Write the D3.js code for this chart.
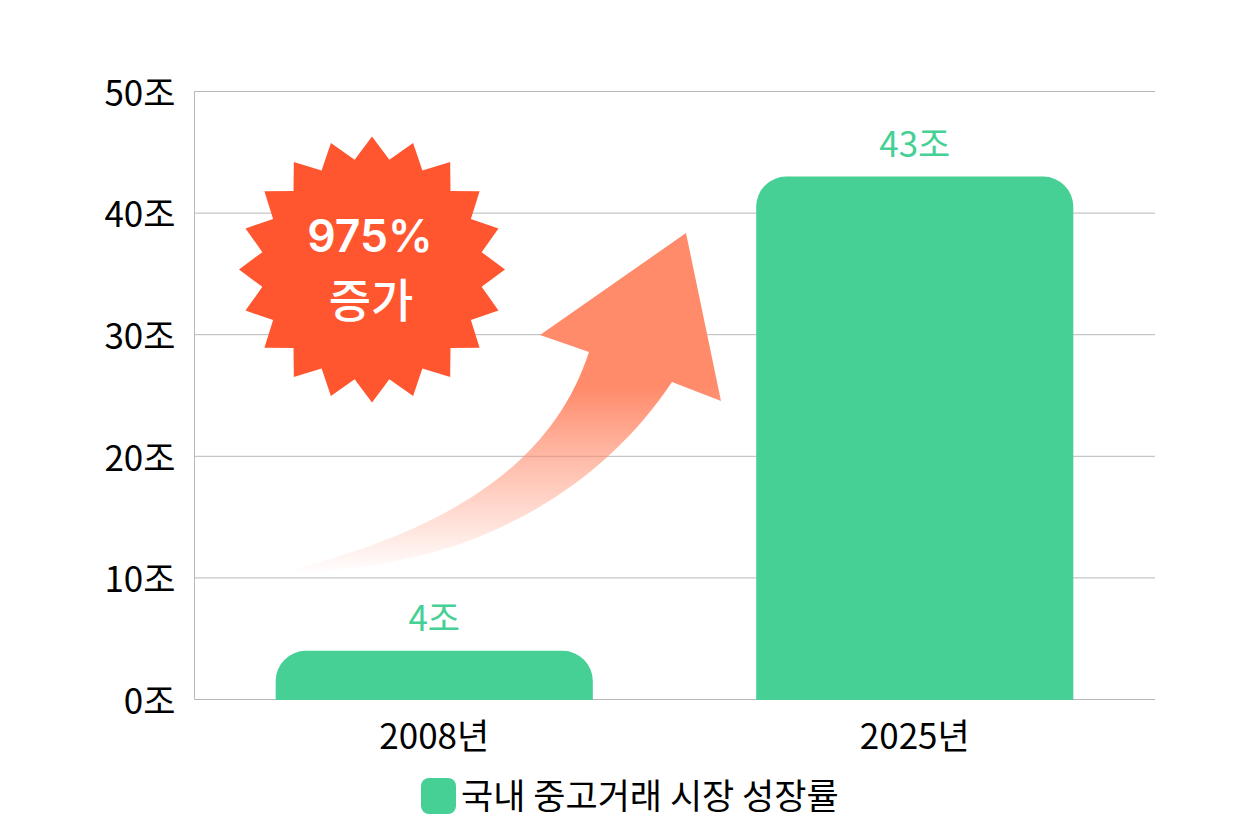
<!DOCTYPE html>
<html>
<head>
<meta charset="utf-8">
<script src="https://cdn.jsdelivr.net/npm/d3@7"></script>
<style>
  html, body { margin: 0; padding: 0; background: #fff; }
  svg text { font-family: "Noto Sans CJK KR", "Noto Sans", sans-serif; }
</style>
</head>
<body>
<div id="chart"></div>
<script>
const years = ["2008년", "2025년"];
const values = [4, 43];
const valueLabels = ["4조", "43조"];
const yTicks = [0, 10, 20, 30, 40, 50];
const legendLabel = "국내 중고거래 시장 성장률";
const badgeLines = ["975%", "증가"];

const green = "#46d095", lineColor = "#b8b8b8";
const fontSize = 35;

const svg = d3.select("#chart").append("svg")
    .attr("width", 1260)
    .attr("height", 840)
    .style("display", "block");

const x = d3.scaleBand().domain(years).range([194, 1155]).paddingInner(0.34).paddingOuter(0.17);
const y = d3.scaleLinear().domain([0, 50]).range([699.5, 91.5]);

// gradient for the arrow, solid at the head and fading to the tail
const grad = svg.append("defs").append("linearGradient")
    .attr("id", "arrowFade")
    .attr("gradientUnits", "userSpaceOnUse")
    .attr("x1", 0).attr("x2", 0)
    .attr("y1", 388).attr("y2", 574);
grad.append("stop").attr("offset", 0).attr("stop-color", "#ff8b6b").attr("stop-opacity", 1);
grad.append("stop").attr("offset", 0.35).attr("stop-color", "#ff8b6b").attr("stop-opacity", 0.62);
grad.append("stop").attr("offset", 0.7).attr("stop-color", "#ff8b6b").attr("stop-opacity", 0.28);
grad.append("stop").attr("offset", 1).attr("stop-color", "#ff8b6b").attr("stop-opacity", 0);

// y axis with gridlines
const yAxis = svg.append("g")
    .attr("transform", "translate(194.5,0)")
    .call(d3.axisLeft(y).offset(0).tickValues(yTicks).tickSize(-960.5).tickPadding(19).tickFormat(d => d + "조"));
yAxis.select(".domain").attr("stroke", lineColor).attr("d", "M0,91.5V699.5");
yAxis.selectAll(".tick line").attr("stroke", lineColor);
yAxis.selectAll(".tick text")
    .attr("font-size", fontSize)
    .attr("fill", "#000")
    .attr("dy", "0.41em");

// bars, only the top corners are rounded
function barPath(d, i) {
    const x0 = x(years[i]), x1 = x0 + x.bandwidth(), top = y(d), r = 30;
    return "M" + x0 + "," + (y(0) + 0.5) + "V" + (top + r) + "A" + r + "," + r + " 0 0 1 " + (x0 + r) + "," + top +
        "H" + (x1 - r) + "A" + r + "," + r + " 0 0 1 " + x1 + "," + (top + r) + "V" + (y(0) + 0.5) + "Z";
}
svg.append("g").selectAll("path")
    .data(values)
    .enter().append("path")
    .attr("d", barPath)
    .attr("fill", green);

svg.append("g").selectAll("text")
    .data(values)
    .enter().append("text")
    .attr("x", (d, i) => x(years[i]) + x.bandwidth() / 2)
    .attr("y", d => y(d) - 20)
    .attr("text-anchor", "middle")
    .attr("font-size", fontSize)
    .attr("fill", green)
    .text((d, i) => valueLabels[i]);

// x axis labels
const xAxis = svg.append("g")
    .attr("transform", "translate(0,699)")
    .call(d3.axisBottom(x).tickSize(0).tickPadding(0));
xAxis.select(".domain").remove();
xAxis.selectAll(".tick text")
    .attr("font-size", fontSize)
    .attr("fill", "#000")
    .attr("y", 50)
    .attr("dy", 0);

// curved arrow
svg.append("path")
    .attr("d", "M283,572C425,536 548,478 589,352L540,335L686,233L721,401L672,382C600,490 470,572 283,572Z")
    .attr("fill", "url(#arrowFade)");

// starburst badge
const spikes = 20, outerR = 133, innerR = 111;
const starPoints = d3.range(spikes * 2).map(i => [i * Math.PI / spikes, i % 2 ? innerR : outerR]);
const badge = svg.append("g").attr("transform", "translate(372,269.5)");
badge.append("path")
    .attr("d", d3.lineRadial().curve(d3.curveLinearClosed)(starPoints))
    .attr("fill", "#ff5630");
badge.selectAll("text")
    .data(badgeLines)
    .enter().append("text")
    .attr("x", (d, i) => i ? -1 : -2)
    .attr("y", (d, i) => i ? 47 : -17.5)
    .attr("text-anchor", "middle")
    .attr("font-size", (d, i) => i ? 46 : 44.5)
    .attr("font-weight", (d, i) => i ? 500 : 600)
    .style("font-family", (d, i) => i ? null : "Inter")
    .attr("fill", "#fff")
    .text(d => d);

// legend
svg.append("rect")
    .attr("x", 421).attr("y", 778)
    .attr("width", 35).attr("height", 36)
    .attr("rx", 8)
    .attr("fill", green);
svg.append("text")
    .attr("x", 461).attr("y", 809)
    .attr("font-size", fontSize)
    .attr("fill", "#000")
    .text(legendLabel);
</script>
</body>
</html>
